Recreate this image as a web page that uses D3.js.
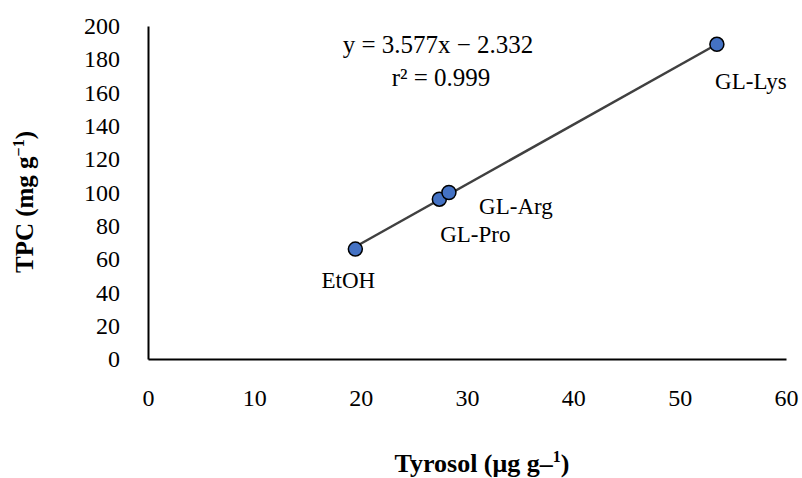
<!DOCTYPE html>
<html>
<head>
<meta charset="utf-8">
<script src="https://cdn.jsdelivr.net/npm/d3@7"></script>
<style>
  body { margin: 0; background: #fff; }
  text { font-family: "Liberation Serif", "DejaVu Serif", serif; fill: #000; }
</style>
</head>
<body>
<svg id="chart" width="802" height="478"></svg>
<script>
// Data
const samples = ["EtOH", "GL-Pro", "GL-Arg", "GL-Lys"];
const tyrosol = [19.5, 27.4, 28.3, 53.5];
const tpc = [66, 96, 100, 189];
const xTicks = [0, 10, 20, 30, 40, 50, 60];
const yTicks = [0, 20, 40, 60, 80, 100, 120, 140, 160, 180, 200];
const slope = 3.577, intercept = -2.332;
const equationText = "y = 3.577x − 2.332";
const r2Text = "r² = 0.999";

const FONT = "'Liberation Serif', serif";
const svg = d3.select("#chart");
const x = d3.scaleLinear().domain([0, 60]).range([148, 786]);
const y = d3.scaleLinear().domain([0, 200]).range([359, 26]);

// Axes
const xAxis = d3.axisBottom(x).tickValues(xTicks).tickSize(0).tickPadding(30);
const gx = svg.append("g").attr("transform", `translate(0,${y(0)})`).call(xAxis);
gx.select(".domain").attr("stroke", "#000").attr("stroke-width", 2);
gx.selectAll("text").style("font-size", "24px").style("font-family", FONT);

const yAxis = d3.axisLeft(y).tickValues(yTicks).tickSize(0).tickPadding(28);
const gy = svg.append("g").attr("transform", `translate(${x(0)},0)`).call(yAxis);
gy.select(".domain").attr("stroke", "#000").attr("stroke-width", 2);
gy.selectAll("text").style("font-size", "24px").style("font-family", FONT);

// Trend line
const xmin = d3.min(tyrosol), xmax = d3.max(tyrosol);
svg.append("line")
  .attr("x1", x(xmin)).attr("y1", y(slope * xmin + intercept))
  .attr("x2", x(xmax)).attr("y2", y(slope * xmax + intercept))
  .attr("stroke", "#404040").attr("stroke-width", 2.5);

// Points
const data = samples.map((s, i) => ({ s, x: tyrosol[i], y: tpc[i] }));
svg.selectAll("circle.pt").data(data).enter().append("circle")
  .attr("class", "pt")
  .attr("cx", d => x(d.x)).attr("cy", d => y(d.y)).attr("r", 7)
  .attr("fill", "#4472C4").attr("stroke", "#000").attr("stroke-width", 1.5);

// Point labels (offsets in px)
const labelOffsets = { "EtOH": [-7, 39], "GL-Pro": [36, 43], "GL-Arg": [67, 21], "GL-Lys": [34, 45] };
svg.selectAll("text.lbl").data(data).enter().append("text")
  .attr("class", "lbl")
  .attr("x", d => x(d.x) + labelOffsets[d.s][0])
  .attr("y", d => y(d.y) + labelOffsets[d.s][1])
  .attr("text-anchor", "middle")
  .style("font-size", "23px")
  .text(d => d.s);

// Equation
svg.append("text").attr("x", 438).attr("y", 53).attr("text-anchor", "middle")
  .style("font-size", "25px").text(equationText);
svg.append("text").attr("x", 441).attr("y", 86).attr("text-anchor", "middle")
  .style("font-size", "25px").text(r2Text);

// Axis titles
const xt = svg.append("text").attr("x", 482).attr("y", 472).attr("text-anchor", "middle")
  .style("font-size", "26px").style("font-weight", "bold");
xt.append("tspan").text("Tyrosol (μg g–");
xt.append("tspan").attr("dy", -10).style("font-size", "16px").text("1");
xt.append("tspan").attr("dy", 10).text(")");

const yt = svg.append("text").attr("transform", "translate(33,202) rotate(-90)").attr("text-anchor", "middle")
  .style("font-size", "25px").style("font-weight", "bold");
yt.append("tspan").text("TPC (mg g");
yt.append("tspan").attr("dy", -9).style("font-size", "16px").text("−1");
yt.append("tspan").attr("dy", 9).text(")");
</script>
</body>
</html>
